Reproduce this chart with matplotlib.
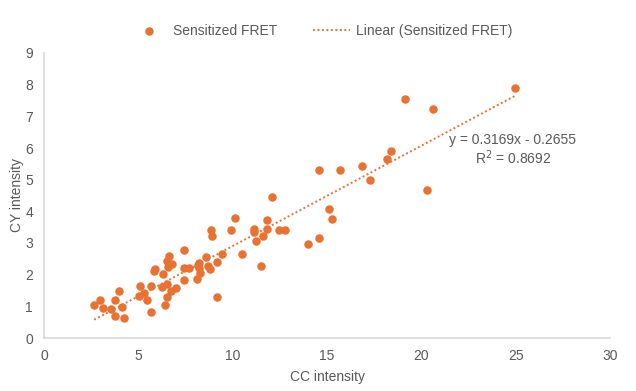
import numpy as np
import matplotlib
matplotlib.use('Agg')
import matplotlib.pyplot as plt

plt.rcParams['font.family'] = ['Liberation Sans', 'DejaVu Sans']

# CC intensity (x) and CY intensity (y)
cc = [2.66, 2.97, 3.13, 3.56, 3.77, 3.98, 4.14, 3.77, 4.25, 5.10,
      5.05, 5.31, 5.47, 5.68, 5.68, 5.89, 5.84, 6.32, 6.27, 6.53,
      6.53, 6.74, 6.43, 7.01, 6.64, 6.53, 6.59, 6.80, 7.44, 7.44,
      7.70, 7.44, 8.18, 8.13, 8.60, 8.23, 8.23, 8.28, 8.71, 8.82,
      9.19, 9.45, 9.19, 8.87, 8.92, 9.93, 10.14, 10.52, 11.15, 11.15,
      11.26, 11.63, 11.84, 11.84, 11.52, 12.06, 12.48, 12.80, 13.97, 14.60,
      15.08, 15.29, 14.60, 15.67, 16.83, 17.26, 18.16, 18.37, 20.29, 19.12,
      20.61, 24.96]
cy = [1.04, 1.20, 0.95, 0.92, 1.20, 1.48, 0.98, 0.69, 0.63, 1.64,
      1.33, 1.42, 1.20, 1.64, 0.82, 2.18, 2.12, 2.02, 1.61, 1.71,
      1.29, 1.48, 1.04, 1.58, 2.59, 2.43, 2.24, 2.34, 2.78, 2.21,
      2.21, 1.83, 2.31, 1.86, 2.56, 2.37, 2.21, 2.05, 2.27, 2.18,
      2.40, 2.65, 1.29, 3.41, 3.22, 3.41, 3.79, 2.65, 3.44, 3.35,
      3.06, 3.22, 3.73, 3.44, 2.27, 4.45, 3.41, 3.41, 2.97, 3.16,
      4.07, 3.76, 5.30, 5.30, 5.43, 4.99, 5.65, 5.90, 4.67, 7.55,
      7.23, 7.89]

slope = 0.3169
intercept = -0.2655
r2 = 0.8692

orange = '#E97132'
grey = '#595959'

fig = plt.figure(figsize=(6.36, 3.91), dpi=100)
ax = fig.add_axes([44/636, 1 - 338/391, 566/636, 285/391])

ax.scatter(cc, cy, s=26, color=orange, zorder=3, label='Sensitized FRET')
xs = np.array([min(cc), max(cc)])
ax.plot(xs, slope * xs + intercept, linestyle=(0, (1, 1.3)), color=orange,
        linewidth=1.4, label='Linear (Sensitized FRET)')

ax.text(24.85, 5.94, 'y = %.4fx - %.4f\nR$^2$ = %.4f' % (slope, -intercept, r2),
        ha='center', va='center', multialignment='center', color=grey,
        fontsize=10, linespacing=1.1)

ax.set_xlim(0, 30)
ax.set_ylim(0, 9)
ax.set_xticks(range(0, 31, 5))
ax.set_yticks(range(0, 10))
ax.tick_params(length=0, colors=grey, labelsize=10, pad=8)
for s in ['top', 'right']:
    ax.spines[s].set_visible(False)
for s in ['left', 'bottom']:
    ax.spines[s].set_color('#d9d9d9')
    ax.spines[s].set_linewidth(1.2)

ax.set_xlabel('CC intensity', color=grey, fontsize=10, labelpad=5)
ax.set_ylabel('CY intensity', color=grey, fontsize=10, labelpad=1)

fig.legend(loc='center', bbox_to_anchor=(0.505, 1 - 31/391), ncol=2,
           frameon=False, fontsize=10, labelcolor=grey, columnspacing=2.6,
           handlelength=2.66, handletextpad=0.4, markerscale=1.0)

plt.savefig('out.png', dpi=100)
